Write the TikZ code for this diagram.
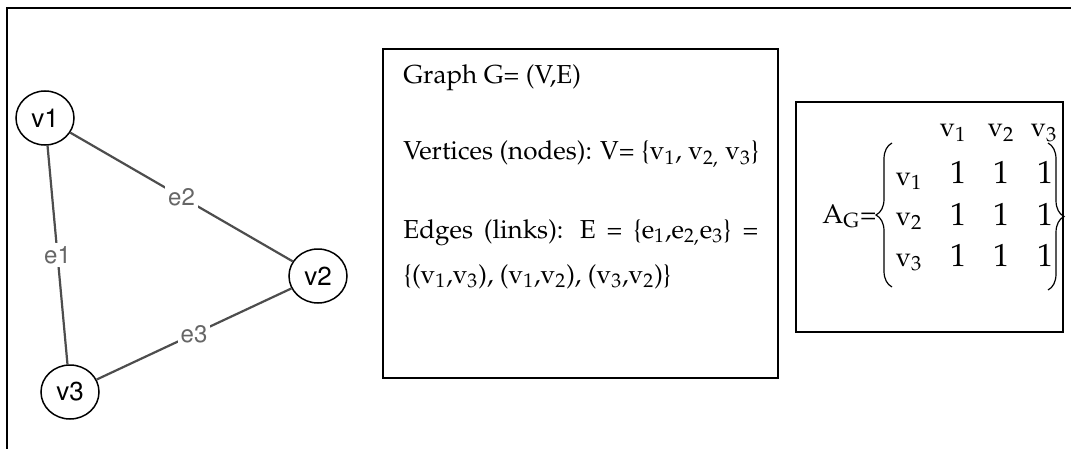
\documentclass[tikz,border=0pt]{standalone}
\usepackage[T1]{fontenc}
\usepackage{mathpazo}
\usetikzlibrary{shapes.geometric,decorations.pathreplacing}

\definecolor{edgegray}{HTML}{4D4D4D}
\definecolor{labelgray}{HTML}{666666}

\tikzset{
  vertex/.style={ellipse, draw, line width=0.75pt, minimum width=29pt, minimum height=27pt,
    inner sep=0pt, font=\fontfamily{phv}\fontsize{13}{15}\selectfont},
  link/.style={draw=edgegray, line width=1.1pt},
  elabel/.style={fill=white, inner sep=1.5pt, text=labelgray,
    font=\fontfamily{phv}\fontsize{12}{14}\selectfont},
  txt/.style={anchor=base west, inner sep=0pt, font=\fontsize{13}{15}\selectfont},
  entry/.style={anchor=base, inner sep=0pt, font=\fontsize{13.5}{15}\selectfont},
  one/.style={entry, font=\fontsize{16}{18}\selectfont},
  bracket/.style={decorate, decoration={brace, amplitude=8pt}, line width=0.6pt}
}

\begin{document}
\begin{tikzpicture}[x=0.5pt,y=-0.5pt]
    \useasboundingbox (0,0) rectangle (1071,449);

    % Outer frame (only top and left edges)
    \draw[line width=1pt] (7,449) -- (7,8) -- (1071,8);

    % The graph: three vertices
    \node[vertex] (v1) at (45,118) {v1};
    \node[vertex] (v2) at (318,276) {v2};
    \node[vertex] (v3) at (70,392) {v3};

    % Edges with their labels
    \draw[link] (v1) -- node[elabel] (e1) {e1} (v3);
    \draw[link] (v1) -- node[elabel] (e2) {e2} (v2);
    \draw[link] (v3) -- node[elabel] (e3) {e3} (v2);

    % Definition box
    \draw[line width=1pt] (383,49) rectangle (778,378);
    \node[txt] (gdef) at (403,84) {Graph G= (V,E)};
    \node[txt] (vdef) at (403,160) {Vertices (nodes): V= \{v\textsubscript{1}, v\textsubscript{2,} v\textsubscript{3}\}};
    \node[txt] (edef) at (403,238) {\makebox[177.5pt][s]{Edges (links): E = \{e\textsubscript{1},e\textsubscript{2,}e\textsubscript{3}\} =}};
    \node[txt] (elist) at (403,283) {\{(v\textsubscript{1},v\textsubscript{3}), (v\textsubscript{1},v\textsubscript{2}), (v\textsubscript{3},v\textsubscript{2})\}};

    % Adjacency matrix box
    \draw[line width=1pt] (796,102) rectangle (1063,332);
    \node[entry, anchor=base west] (ag) at (822,223) {A\textsubscript{G}=};

    % column and row heads
    \node[entry] (c1) at (953,137) {v\textsubscript{1}};
    \node[entry] (c2) at (1001,137) {v\textsubscript{2}};
    \node[entry] (c3) at (1044,137) {v\textsubscript{3}};
    \node[entry] (r1) at (909,185) {v\textsubscript{1}};
    \node[entry] (r2) at (909,225) {v\textsubscript{2}};
    \node[entry] (r3) at (909,266) {v\textsubscript{3}};

    % entries
    \node[one] (m11) at (958,184) {1};
    \node[one] (m12) at (1001,184) {1};
    \node[one] (m13) at (1045,184) {1};
    \node[one] (m21) at (958,225) {1};
    \node[one] (m22) at (1001,225) {1};
    \node[one] (m23) at (1045,225) {1};
    \node[one] (m31) at (958,266) {1};
    \node[one] (m32) at (1001,266) {1};
    \node[one] (m33) at (1045,266) {1};

    % braces round the matrix
    \draw[bracket] (892,287) -- (892,143);
    \draw[bracket] (1048,143) -- (1048,290);
\end{tikzpicture}
\end{document}
